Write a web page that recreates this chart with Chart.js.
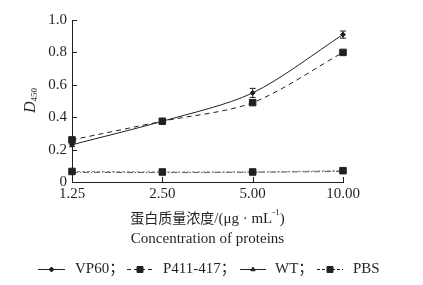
<!DOCTYPE html>
<html>
<head>
<meta charset="utf-8">
<script src="https://cdn.jsdelivr.net/npm/chart.js@4/dist/chart.umd.min.js"></script>
<style>
  html, body { margin: 0; padding: 0; background: #fff; }
  #chart { display: block; }
</style>
</head>
<body>
<canvas id="chart" width="423" height="285"></canvas>
<script>
var concentrations = ['1.25', '2.50', '5.00', '10.00'];
var vp60 = [0.23, 0.375, 0.55, 0.91];
var vp60_err = [0.012, 0.008, 0.028, 0.022];
var p411_417 = [0.26, 0.375, 0.49, 0.80];
var wt = [0.06, 0.058, 0.06, 0.065];
var pbs = [0.065, 0.062, 0.062, 0.07];
var y_ticks = [0, 0.2, 0.4, 0.6, 0.8, 1.0];

var ink = '#231f20';
var serif = "'Liberation Serif', 'Times New Roman', serif";

// error bars, inward ticks, axis titles and legend
var extras = {
  id: 'extras',
  afterDatasetsDraw: function (chart) {
    var ctx = chart.ctx;
    var xs = chart.scales.x, ys = chart.scales.y;
    ctx.save();
    ctx.strokeStyle = ink;
    ctx.lineWidth = 1;
    for (let i = 0; i < vp60.length; i++) {
      let x = xs.getPixelForValue(i);
      let top = ys.getPixelForValue(vp60[i] + vp60_err[i]);
      let bot = ys.getPixelForValue(vp60[i] - vp60_err[i]);
      ctx.beginPath();
      ctx.moveTo(x, top); ctx.lineTo(x, bot);
      ctx.moveTo(x - 3, top); ctx.lineTo(x + 3, top);
      ctx.moveTo(x - 3, bot); ctx.lineTo(x + 3, bot);
      ctx.stroke();
    }
    ctx.restore();
  },
  afterDraw: function (chart) {
    var ctx = chart.ctx;
    var xs = chart.scales.x, ys = chart.scales.y;
    var area = chart.chartArea;
    ctx.save();
    ctx.strokeStyle = ink;
    ctx.lineWidth = 1;
    ctx.beginPath();
    y_ticks.forEach(function (v) {
      let y = Math.round(ys.getPixelForValue(v)) + 0.5;
      ctx.moveTo(area.left, y); ctx.lineTo(area.left + 5, y);
    });
    for (let i = 0; i < concentrations.length; i++) {
      let x = Math.round(xs.getPixelForValue(i)) + 0.5;
      ctx.moveTo(x, area.bottom); ctx.lineTo(x, area.bottom - 5);
    }
    ctx.stroke();

    // y title: D450
    ctx.fillStyle = ink;
    ctx.translate(35, 113);
    ctx.rotate(-Math.PI / 2);
    ctx.textBaseline = 'alphabetic';
    ctx.textAlign = 'left';
    ctx.font = 'italic 16px ' + serif;
    ctx.fillText('D', 0, 0);
    var dw = ctx.measureText('D').width;
    ctx.font = '9px ' + serif;
    ctx.fillText('450', dw, 2);
    ctx.setTransform(1, 0, 0, 1, 0, 0);

    // x titles
    var cx = (area.left + area.right) / 2;
    ctx.textBaseline = 'middle';
    ctx.textAlign = 'left';
    var cn = '蛋白质量浓度';
    var unit = '/(μg · mL';
    ctx.font = "14px 'Noto Sans CJK SC'";
    var w1 = ctx.measureText(cn).width;
    ctx.font = '15px ' + serif;
    var w2 = ctx.measureText(unit).width;
    ctx.font = '9px ' + serif;
    var w3 = ctx.measureText('-1').width;
    ctx.font = '15px ' + serif;
    var w4 = ctx.measureText(')').width;
    var x0 = cx - (w1 + w2 + w3 + w4) / 2;
    ctx.font = "14px 'Noto Sans CJK SC'";
    ctx.fillText(cn, x0, 218);
    ctx.font = '15px ' + serif;
    ctx.fillText(unit, x0 + w1, 219);
    ctx.font = '9px ' + serif;
    ctx.fillText('-1', x0 + w1 + w2, 213);
    ctx.font = '15px ' + serif;
    ctx.fillText(')', x0 + w1 + w2 + w3, 219);

    ctx.textAlign = 'center';
    ctx.fillText('Concentration of proteins', cx, 239);

    // legend
    var ly = 269;
    var items = [
      { x1: 38, x2: 65, text: 'VP60；', tx: 75, dash: [], point: 'rectRot', r: 2.5 },
      { x1: 127, x2: 153, text: 'P411-417；', tx: 163, dash: [4, 3], point: 'rect', r: 4.2 },
      { x1: 240, x2: 266, text: 'WT；', tx: 275, dash: [], point: 'triangle', r: 2.5 },
      { x1: 317, x2: 343, text: 'PBS', tx: 353, dash: [3, 2], point: 'rect', r: 4.2 }
    ];
    ctx.textAlign = 'left';
    items.forEach(function (it) {
      ctx.setLineDash(it.dash);
      ctx.strokeStyle = ink;
      ctx.beginPath();
      ctx.moveTo(it.x1, ly + 0.5); ctx.lineTo(it.x2, ly + 0.5);
      ctx.stroke();
      ctx.setLineDash([]);
      ctx.fillStyle = ink;
      Chart.helpers.drawPoint(ctx, { pointStyle: it.point, radius: it.r, rotation: 0, borderWidth: 1 }, (it.x1 + it.x2) / 2, ly + 0.5);
      ctx.font = "15px " + serif + ", 'Noto Sans CJK SC'";
      ctx.fillText(it.text, it.tx, ly);
    });
    ctx.restore();
  }
};

var data = {
  labels: concentrations,
  datasets: [
    {
      label: 'VP60', data: vp60, borderColor: ink, backgroundColor: ink,
      borderWidth: 1, pointStyle: 'rectRot', pointRadius: 2.5, tension: 0.3
    },
    {
      label: 'P411-417', data: p411_417, borderColor: ink, backgroundColor: ink,
      borderWidth: 1, borderDash: [5, 4], pointStyle: 'rect', pointRadius: 4.6, tension: 0.3
    },
    {
      label: 'PBS', data: pbs, borderColor: '#8a8a8a', backgroundColor: ink,
      pointBorderColor: ink, borderWidth: 1, borderDash: [3, 2], pointStyle: 'rect', pointRadius: 4.6
    },
    {
      label: 'WT', data: wt, borderColor: '#555', backgroundColor: ink,
      borderWidth: 1, borderDash: [6, 2, 1, 2], pointStyle: 'triangle', pointRadius: 2.5
    }
  ]
};

var config = {
  type: 'line',
  data: data,
  options: {
    responsive: false,
    animation: false,
    layout: { padding: { top: 20, right: 80, left: 0, bottom: 0 } },
    plugins: {
      legend: { display: false },
      tooltip: { enabled: false }
    },
    scales: {
      x: {
        type: 'category',
        offset: false,
        grid: { display: false, drawTicks: false },
        border: { display: true, color: ink, width: 1 },
        ticks: { color: ink, font: { family: serif, size: 15 }, padding: 3, maxRotation: 0 },
        afterFit: function (scale) { scale.height = 103; }
      },
      y: {
        min: 0,
        max: 1,
        grid: { display: false, drawTicks: false },
        border: { display: true, color: ink, width: 1 },
        afterBuildTicks: function (scale) {
          scale.ticks = y_ticks.map(function (v) { return { value: v }; });
        },
        ticks: {
          color: ink, font: { family: serif, size: 15 }, padding: 5,
          callback: function (v) { return v === 0 ? '0' : v.toFixed(1); }
        },
        afterFit: function (scale) { scale.width = 72; }
      }
    }
  },
  plugins: [extras]
};

const myChart = new Chart(document.getElementById('chart'), config);
</script>
</body>
</html>
